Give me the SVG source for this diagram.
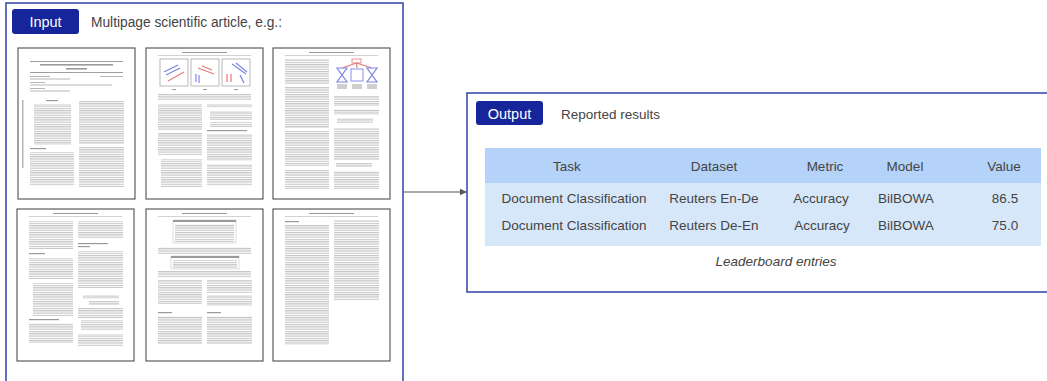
<svg xmlns="http://www.w3.org/2000/svg" width="1047" height="381" viewBox="0 0 1047 381">
<style>
.frame{fill:#fff;stroke:#3140ad;stroke-width:1.5}
.tag{fill:#17259a}
.tagt{font-family:"Liberation Sans",Arial,sans-serif;font-size:14.5px;fill:#fff}
.lbl{font-family:"Liberation Sans",Arial,sans-serif;font-size:13.5px;fill:#444}
.cell{font-family:"Liberation Sans",Arial,sans-serif;font-size:13.5px;fill:#444;text-anchor:middle}
.cap{font-family:"Liberation Sans",Arial,sans-serif;font-size:13.5px;fill:#444;font-style:italic;text-anchor:middle}
.page{fill:#fff;stroke:#5e5e5e;stroke-width:1.2}
.tx{fill:url(#tx)}
.hd{fill:#9a9a9a}
.rule{fill:#b5b5b5}
.fig{fill:none;stroke:#9a9a9a;stroke-width:0.7}
.blu{fill:none;stroke:#7d86e6;stroke-width:1.2}
.red{fill:none;stroke:#e67a7a;stroke-width:1.2}
</style>
<defs>
<pattern id="tx" width="8" height="2.3" patternUnits="userSpaceOnUse"><rect width="8" height="1.2" fill="#c6c6c6"/></pattern>
<marker id="ah" viewBox="0 0 10 10" refX="9" refY="5" markerWidth="7" markerHeight="7" markerUnits="userSpaceOnUse" orient="auto"><path d="M0,0 L10,5 L0,10 z" fill="#555"/></marker>
</defs>
<rect width="1047" height="381" fill="#fff"/>

<g id="input">
<rect class="frame" x="6" y="3" width="397" height="400"/>
<rect class="tag" x="12" y="9" width="67" height="25" rx="3"/>
<text class="tagt" x="45.5" y="27" text-anchor="middle">Input</text>
<text class="lbl" x="91" y="27" style="font-size:13.8px" textLength="191" lengthAdjust="spacingAndGlyphs">Multipage scientific article, e.g.:</text>

<g id="page1" transform="translate(18,48)">
<rect class="page" x="0" y="0" width="117" height="151"/>
<rect x="12" y="13" width="93" height="0.8" fill="#888"/>
<rect class="hd" x="22" y="16" width="73" height="1.6"/>
<rect class="hd" x="48" y="20" width="21" height="1.6"/>
<rect x="12" y="24" width="93" height="0.8" fill="#888"/>
<rect class="rule" x="12" y="28" width="20" height="1"/>
<rect class="rule" x="82" y="28" width="23" height="1"/>
<rect class="rule" x="12" y="30.5" width="40" height="1"/>
<rect class="rule" x="12" y="34" width="15" height="1"/>
<rect class="rule" x="12" y="36.5" width="82" height="1"/>
<rect class="rule" x="12" y="40" width="15" height="1"/>
<rect class="rule" x="12" y="42.5" width="40" height="1"/>
<rect class="rule" x="4" y="52" width="1.5" height="68"/>
<rect class="hd" x="28" y="52" width="12" height="1.2"/>
<rect class="tx" x="16" y="56" width="37" height="41"/>
<rect class="hd" x="12" y="100" width="16" height="1.2"/>
<rect class="tx" x="12" y="104" width="44" height="34"/>
<rect class="tx" x="61" y="52" width="45" height="44"/>
<rect class="tx" x="61" y="99" width="45" height="40"/>
</g>

<g id="page2" transform="translate(146,48)">
<rect class="page" x="0" y="0" width="117" height="151"/>
<rect class="hd" x="36" y="4" width="45" height="1"/>
<rect class="rule" x="12" y="7" width="93" height="0.6"/>
<rect class="fig" x="14" y="11" width="28" height="27"/>
<rect class="fig" x="45" y="11" width="28" height="27"/>
<rect class="fig" x="76" y="11" width="28" height="27"/>
<path class="blu" d="M18,24 L32,17 M20,27 L34,20"/>
<path class="red" d="M22,33 L38,24"/>
<path class="red" d="M52,20 L68,26 M56,18 L66,22"/>
<path class="blu" d="M50,26 L50,34 M53,27 L53,35"/>
<path class="blu" d="M86,16 L100,26 M90,15 L101,24"/>
<path class="red" d="M81,26 L81,34 M85,26 L85,34"/>
<path class="blu" d="M94,27 L98,35"/>
<rect class="hd" x="26" y="41" width="4" height="1"/>
<rect class="hd" x="57" y="41" width="4" height="1"/>
<rect class="hd" x="88" y="41" width="4" height="1"/>
<rect class="tx" x="12" y="46" width="93" height="6"/>
<rect class="tx" x="12" y="56" width="44" height="26"/>
<rect class="tx" x="12" y="85" width="44" height="22"/>
<rect class="tx" x="15" y="111" width="41" height="28"/>
<rect class="tx" x="61" y="56" width="45" height="4"/>
<rect class="tx" x="64" y="63" width="42" height="9"/>
<rect class="tx" x="64" y="74" width="42" height="5"/>
<rect class="hd" x="61" y="82" width="40" height="1.2"/>
<rect class="tx" x="61" y="86" width="45" height="27"/>
<rect class="tx" x="61" y="116" width="45" height="22"/>
</g>

<g id="page3" transform="translate(273,48)">
<rect class="page" x="0" y="0" width="117" height="151"/>
<rect class="hd" x="36" y="4" width="45" height="1"/>
<rect class="rule" x="12" y="7" width="93" height="0.6"/>
<rect class="tx" x="12" y="11" width="44" height="25"/>
<rect class="tx" x="12" y="39" width="44" height="41"/>
<rect class="tx" x="12" y="83" width="44" height="35"/>
<rect class="tx" x="12" y="121" width="44" height="20"/>
<rect x="79" y="11" width="9" height="4" fill="none" stroke="#e67a7a" stroke-width="0.8"/>
<path class="red" d="M83.5,15 L69,20 M83.5,15 L84,20 M83.5,15 L99,20" stroke-width="0.8"/>
<path class="blu" d="M64,20 L74,20 L64,34 L74,34 Z" stroke-width="0.9"/>
<path class="blu" d="M94,20 L104,20 L94,34 L104,34 Z" stroke-width="0.9"/>
<rect x="78" y="21" width="12" height="12" fill="none" stroke="#7d86e6" stroke-width="0.9"/>
<rect x="64" y="36" width="10" height="5" fill="#cfcfcf"/>
<rect x="79" y="36" width="10" height="5" fill="#cfcfcf"/>
<rect x="94" y="36" width="10" height="5" fill="#cfcfcf"/>
<rect class="tx" x="61" y="48" width="45" height="10"/>
<rect class="tx" x="61" y="61" width="45" height="6"/>
<rect class="tx" x="64" y="70" width="36" height="5"/>
<rect class="tx" x="61" y="80" width="45" height="32"/>
<rect class="tx" x="63" y="115" width="36" height="4"/>
<rect class="tx" x="61" y="123" width="45" height="18"/>
</g>

<g id="page4" transform="translate(17,209)">
<rect class="page" x="0" y="0" width="117" height="152"/>
<rect class="hd" x="36" y="4" width="45" height="1"/>
<rect class="rule" x="12" y="7" width="93" height="0.6"/>
<rect class="tx" x="12" y="12" width="44" height="28"/>
<rect class="hd" x="12" y="44" width="16" height="1.2"/>
<rect class="tx" x="12" y="49" width="44" height="21"/>
<rect class="tx" x="16" y="74" width="40" height="33"/>
<rect class="hd" x="12" y="110" width="30" height="1.2"/>
<rect class="tx" x="12" y="114" width="44" height="20"/>
<rect class="tx" x="61" y="12" width="45" height="18"/>
<rect class="hd" x="61" y="34" width="30" height="1.2"/>
<rect class="hd" x="61" y="37" width="12" height="1.2"/>
<rect class="tx" x="61" y="42" width="45" height="37"/>
<rect class="tx" x="66" y="86" width="36" height="4"/>
<rect class="tx" x="72" y="92" width="30" height="4"/>
<rect class="tx" x="61" y="99" width="45" height="10"/>
<rect class="tx" x="64" y="111" width="42" height="11"/>
<rect class="tx" x="61" y="125" width="45" height="12"/>
</g>

<g id="page5" transform="translate(146,209)">
<rect class="page" x="0" y="0" width="117" height="152"/>
<rect class="hd" x="36" y="4" width="45" height="1"/>
<rect class="rule" x="12" y="7" width="93" height="0.6"/>
<rect x="27" y="11" width="63" height="23" fill="none" stroke="#bbb" stroke-width="0.5"/>
<rect class="hd" x="27" y="11" width="63" height="2"/>
<rect class="tx" x="29" y="15" width="59" height="18"/>
<rect class="tx" x="12" y="38" width="93" height="7"/>
<rect x="25" y="47" width="68" height="13" fill="none" stroke="#bbb" stroke-width="0.5"/>
<rect class="hd" x="25" y="47" width="68" height="2"/>
<rect class="tx" x="27" y="51" width="64" height="8"/>
<rect class="tx" x="12" y="62" width="93" height="7"/>
<rect class="tx" x="12" y="71" width="44" height="24"/>
<rect class="hd" x="12" y="103" width="14" height="1.2"/>
<rect class="tx" x="12" y="107" width="44" height="28"/>
<rect class="tx" x="61" y="71" width="45" height="13"/>
<rect class="tx" x="61" y="86" width="45" height="11"/>
<rect class="hd" x="61" y="103" width="14" height="1.2"/>
<rect class="tx" x="61" y="107" width="45" height="28"/>
</g>

<g id="page6" transform="translate(273,209)">
<rect class="page" x="0" y="0" width="117" height="152"/>
<rect class="hd" x="36" y="4" width="45" height="1"/>
<rect class="rule" x="12" y="7" width="93" height="0.6"/>
<rect class="hd" x="12" y="12" width="14" height="1.2"/>
<rect class="tx" x="12" y="16" width="44" height="120"/>
<rect class="tx" x="61" y="11" width="45" height="81"/>
</g>
</g>

<g id="connectors">
<line x1="403" y1="192" x2="466" y2="192" stroke="#555" stroke-width="1.2" marker-end="url(#ah)"/>
</g>

<g id="output">
<rect class="frame" x="467" y="93" width="600" height="199"/>
<rect class="tag" x="476" y="101" width="67" height="24" rx="3"/>
<text class="tagt" x="509.5" y="119" text-anchor="middle">Output</text>
<text class="lbl" x="561" y="119">Reported results</text>
<rect x="485" y="148" width="556" height="35" fill="#b5d3f8"/>
<rect x="485" y="183" width="556" height="63" fill="#d7e7fa"/>
<text class="cell" x="567" y="171">Task</text>
<text class="cell" x="714" y="171">Dataset</text>
<text class="cell" x="825" y="171">Metric</text>
<text class="cell" x="905" y="171">Model</text>
<text class="cell" x="1004" y="171">Value</text>
<text class="cell" x="574" y="203">Document Classification</text>
<text class="cell" x="714" y="203">Reuters En-De</text>
<text class="cell" x="821" y="203">Accuracy</text>
<text class="cell" x="906" y="203">BilBOWA</text>
<text class="cell" x="1005" y="203">86.5</text>
<text class="cell" x="574" y="230">Document Classification</text>
<text class="cell" x="714" y="230">Reuters De-En</text>
<text class="cell" x="822" y="230">Accuracy</text>
<text class="cell" x="906" y="230">BilBOWA</text>
<text class="cell" x="1005" y="230">75.0</text>
<text class="cap" x="776" y="266">Leaderboard entries</text>
</g>
</svg>
